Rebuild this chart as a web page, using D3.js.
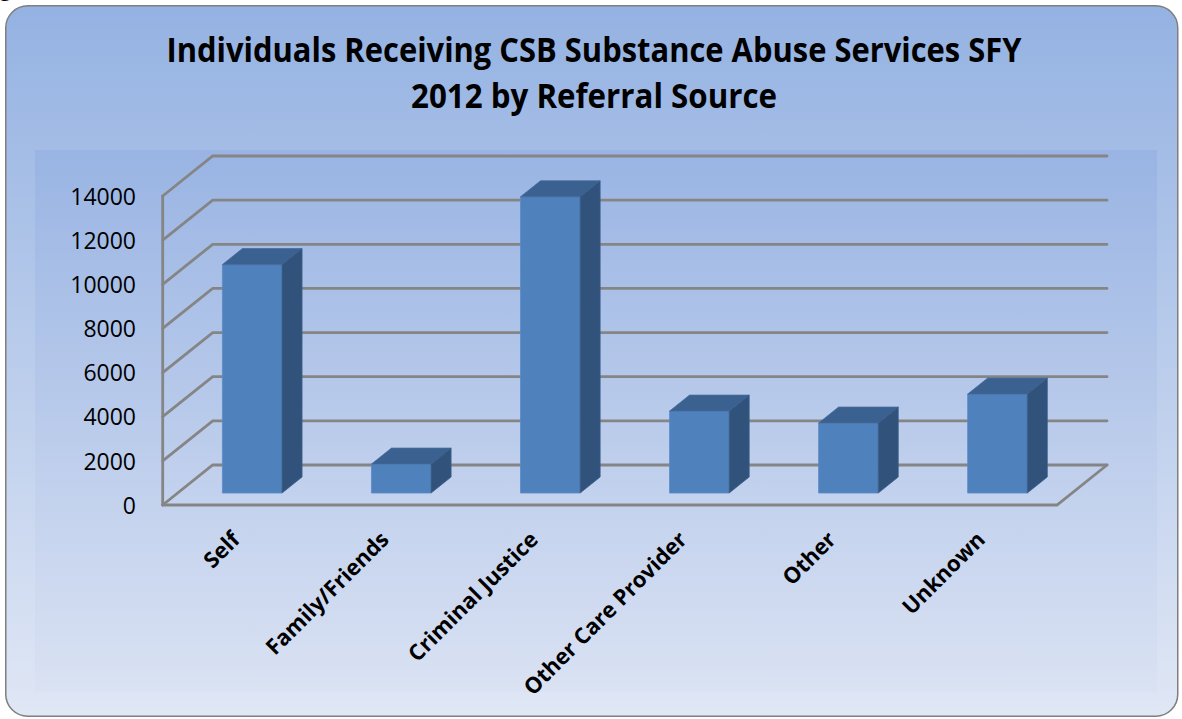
<!DOCTYPE html>
<html>
<head>
<meta charset="utf-8">
<script src="https://cdn.jsdelivr.net/npm/d3@7"></script>
<style>
  html, body { margin: 0; padding: 0; background: #ffffff; }
  svg { display: block; }
</style>
</head>
<body>
<svg id="chart" width="1182" height="719"></svg>
<script>
// Referral sources and the number of individuals served from each
const categories = ["Self", "Family/Friends", "Criminal Justice", "Other Care Provider", "Other", "Unknown"];
const values = [10350, 1310, 13420, 3710, 3170, 4480];
const tickValues = [0, 2000, 4000, 6000, 8000, 10000, 12000, 14000];
const titleLines = ["Individuals Receiving CSB Substance Abuse Services SFY", "2012 by Referral Source"];

const svg = d3.select("#chart");
const defs = svg.append("defs");

// Background gradients: chart area and plot area
const gOuter = defs.append("linearGradient").attr("id", "bgOuter")
  .attr("x1", 0).attr("y1", 0).attr("x2", 0).attr("y2", 1);
gOuter.append("stop").attr("offset", "0%").attr("stop-color", "#94b2e2");
gOuter.append("stop").attr("offset", "100%").attr("stop-color", "#e0e7f5");

const gPlot = defs.append("linearGradient").attr("id", "bgPlot")
  .attr("x1", 0).attr("y1", 0).attr("x2", 0).attr("y2", 1);
gPlot.append("stop").attr("offset", "0%").attr("stop-color", "#99b4e3");
gPlot.append("stop").attr("offset", "100%").attr("stop-color", "#dae2f3");

// fragment of the preceding document line peeking in at the top-left
svg.append("text")
  .attr("x", -1).attr("y", -4)
  .attr("font-family", "'Liberation Serif', 'DejaVu Serif', serif")
  .attr("font-size", 24)
  .attr("fill", "#000")
  .text("g");

// Chart frame
svg.append("rect")
  .attr("x", 5.75).attr("y", 5.75)
  .attr("width", 1172).attr("height", 710.5)
  .attr("rx", 22).attr("ry", 22)
  .attr("fill", "url(#bgOuter)")
  .attr("stroke", "#7f7f7f").attr("stroke-width", 1.5);

// Plot area
svg.append("rect")
  .attr("x", 35).attr("y", 150)
  .attr("width", 1122).attr("height", 542)
  .attr("fill", "url(#bgPlot)");

// Title
const title = svg.append("g")
  .attr("font-family", "'Open Sans', 'Noto Sans', sans-serif")
  .attr("font-weight", "bold")
  .attr("font-size", 34)
  .attr("fill", "#000")
  .attr("text-anchor", "middle");
const titleWidths = [855, 366];
title.selectAll("text").data(titleLines).join("text")
  .attr("x", 594)
  .attr("y", (d, i) => 62 + i * 46)
  .attr("textLength", (d, i) => titleWidths[i])
  .attr("lengthAdjust", "spacingAndGlyphs")
  .text(d => d);

// 3-D projection: depth d in [0,1] shifts a point right and up
const DX = 50, DY = -40;
const proj = (px, py, d) => [px + DX * d, py + DY * d];

const x = d3.scaleBand().domain(categories).range([162.7, 1057]).padding(0);
const y = d3.scaleLinear().domain([0, 14000]).range([505, 196]);

const x0 = x.range()[0], x1 = x.range()[1];
const gridColor = "#858585";

// Back wall gridlines and left wall diagonals
const grid = svg.append("g")
  .attr("stroke", gridColor)
  .attr("stroke-width", 2.8)
  .attr("fill", "none")
  .attr("stroke-linecap", "round");

grid.selectAll("path.back").data(tickValues).join("path")
  .attr("class", "back")
  .attr("d", v => {
    const a = proj(x0, y(v), 1), b = proj(x1, y(v), 1), f = [x0, y(v)];
    return d3.line()([f, a, b]);
  });

// Front vertical axis line
grid.append("path")
  .attr("d", d3.line()([[x0, y(0)], [x0, y(14000)]]));

// Floor front edge and right edge
grid.append("path")
  .attr("d", d3.line()([[x0, y(0)], [x1, y(0)], proj(x1, y(0), 1)]));

// Bars
const bw = x.bandwidth();
const half = bw * 0.2;
const dFront = 0.3, dBack = 0.7;
const bars = svg.append("g").selectAll("g.bar")
  .data(categories.map((c, i) => ({ c, v: values[i] })))
  .join("g").attr("class", "bar");

const poly = pts => "M" + pts.map(p => p.join(",")).join("L") + "Z";

bars.append("path")
  .attr("d", d => {
    const cx = x(d.c) + bw / 2;
    return poly([
      proj(cx - half, y(d.v), dFront), proj(cx + half, y(d.v), dFront),
      proj(cx + half, y(0), dFront), proj(cx - half, y(0), dFront)
    ]);
  })
  .attr("fill", "#4f81bd")
  .attr("stroke", "#5b8ac4").attr("stroke-width", 0.8);

bars.append("path")
  .attr("d", d => {
    const cx = x(d.c) + bw / 2;
    return poly([
      proj(cx - half, y(d.v), dFront), proj(cx + half, y(d.v), dFront),
      proj(cx + half, y(d.v), dBack), proj(cx - half, y(d.v), dBack)
    ]);
  })
  .attr("fill", "#3b6190")
  .attr("stroke", "#466c9c").attr("stroke-width", 0.8);

bars.append("path")
  .attr("d", d => {
    const cx = x(d.c) + bw / 2;
    return poly([
      proj(cx + half, y(d.v), dFront), proj(cx + half, y(d.v), dBack),
      proj(cx + half, y(0), dBack), proj(cx + half, y(0), dFront)
    ]);
  })
  .attr("fill", "#30527b")
  .attr("stroke", "#3c5f8a").attr("stroke-width", 0.8);

// Value axis labels
const yAxis = d3.axisLeft(y).tickValues(tickValues).tickSize(0).tickPadding(0)
  .tickFormat(d3.format("d"));
const yg = svg.append("g").attr("transform", "translate(136,0)").call(yAxis);
yg.select(".domain").remove();
yg.selectAll("text")
  .attr("font-family", "'Open Sans', 'Noto Sans', sans-serif")
  .attr("font-size", 23)
  .attr("fill", "#000")
  .attr("dy", "0.36em");

// Category labels, rotated
svg.append("g")
  .attr("font-family", "'Open Sans', 'Noto Sans', sans-serif")
  .attr("font-weight", "bold")
  .attr("font-size", 22)
  .attr("fill", "#000")
  .selectAll("text").data(categories).join("text")
  .attr("text-anchor", "end")
  .attr("transform", c => `translate(${x(c) + bw / 2 + 4},541) rotate(-45)`)
  .text(c => c);
</script>
</body>
</html>
